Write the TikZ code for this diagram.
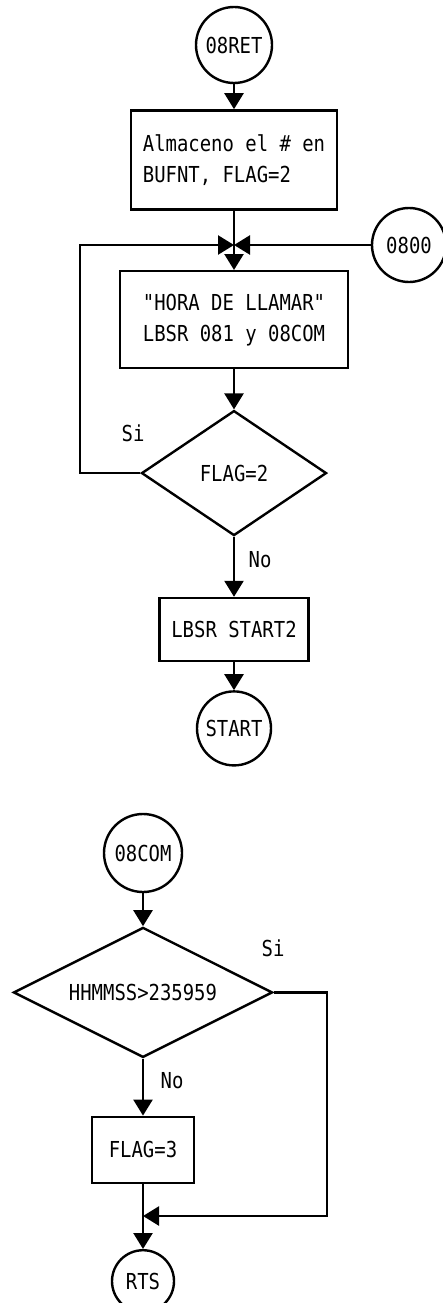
\documentclass[tikz,border=0pt]{standalone}
\usepackage{fontspec}
\newfontfamily\plotfont[FakeStretch=0.86]{DejaVu Sans Mono}
\usepackage{tikz}
\usetikzlibrary{arrows.meta,positioning,shapes.geometric}

\begin{document}
\begin{tikzpicture}[
  x=1pt, y=1pt,
  every node/.style={font=\plotfont\fontsize{22pt}{31pt}\selectfont},
  term/.style={
    circle,
    draw,
    line width=2.4pt,
    inner sep=0pt,
    minimum size=76pt
  },
  proc/.style={
    rectangle,
    draw,
    line width=2.4pt,
    align=left,
    inner xsep=12pt
  },
  decision/.style={
    diamond,
    draw,
    aspect=2,
    line width=2.4pt,
    inner sep=0pt
  },
  lbl/.style={inner sep=0pt},
  link/.style={line width=2.4pt},
  arrow/.style={-{Triangle[length=16pt,width=19pt]}, line width=2.4pt}
]
\useasboundingbox (0,0) rectangle (443,-1303);

% upper routine
\node[term] (obret) at (234,-45) {08RET};

\node[proc, below=25pt of obret, minimum width=205pt, minimum height=99pt] (store) {
  Almaceno el \# en\\
  BUFNT, FLAG=2
};

\coordinate (join) at (234,-245);
\coordinate (loop) at (80,-245);
\node[term, minimum size=74pt] (o800) at (409,-245) {0800};

\node[proc, below=25pt of join, minimum width=228pt, minimum height=97pt] (call) {
  "HORA DE LLAMAR"\\
  LBSR 081 y 08COM
};

\node[decision, below=40pt of call, minimum width=185pt, minimum height=125pt] (flag) {FLAG=2};

\node[proc, below=60pt of flag, minimum width=147pt, minimum height=63pt] (start2) {LBSR START2};

\node[term, below=28pt of start2, minimum size=74pt] (start) {START};

\node[lbl] (siA) at (133,-433) {Si};
\node[lbl] (noA) at (260,-560) {No};

\draw[arrow] (obret) -- (store);
\draw[link] (store) -- (join);
\draw[arrow] (o800) -- (join);
\draw[arrow] (flag.west) -| (loop) -- (join);
\draw[arrow] (join) -- (call);
\draw[arrow] (call) -- (flag);
\draw[arrow] (flag) -- (start2);
\draw[arrow] (start2) -- (start);

% lower routine
\node[term, minimum size=78pt] (obcom) at (143,-853) {08COM};

\node[decision, below=33pt of obcom, minimum width=259pt, minimum height=130pt] (hour) {HHMMSS>235959};

\node[proc, below=57pt of hour, minimum width=102pt, minimum height=66pt] (flag3) {FLAG=3};

\coordinate (edge) at (327,-1216);
\coordinate (merge) at (flag3.south |- edge);

\node[term, below=65pt of flag3, minimum size=62pt] (rts) {RTS};

\node[lbl] (siB) at (273,-948) {Si};
\node[lbl] (noB) at (172,-1081) {No};

\draw[arrow] (obcom) -- (hour);
\draw[arrow] (hour) -- (flag3);
\draw[arrow] (flag3) -- (rts);
\draw[arrow] (hour.east) -| (edge) -- (merge);

\end{tikzpicture}
\end{document}
